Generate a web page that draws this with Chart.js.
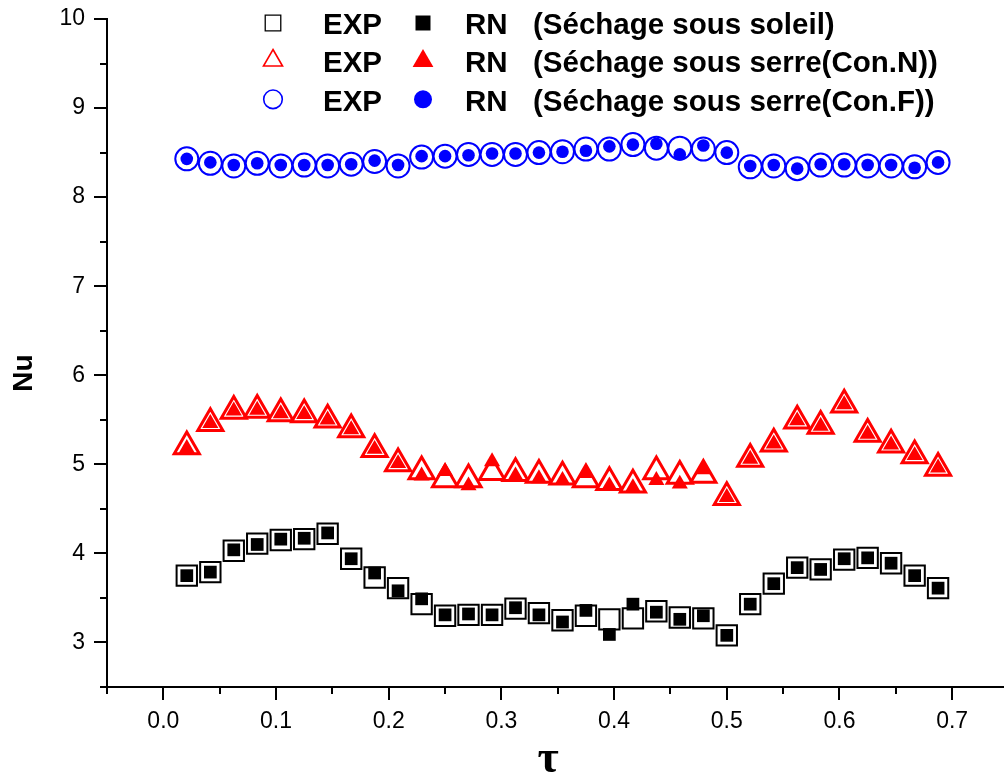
<!DOCTYPE html>
<html>
<head>
<meta charset="utf-8">
<script src="https://cdn.jsdelivr.net/npm/chart.js@4/dist/chart.umd.min.js"></script>
<style>
  html, body { margin: 0; padding: 0; background: #fff; overflow: hidden; }
  #wrap { width: 1004px; height: 776px; }
</style>
</head>
<body>
<div id="wrap"><canvas id="c" width="1004" height="776"></canvas></div>
<script>
// Dimensionless time (tau)
const tau = [0.0208, 0.0417, 0.0625, 0.0833, 0.1042, 0.125, 0.1458, 0.1667, 0.1875, 0.2083, 0.2292,
             0.25, 0.2708, 0.2917, 0.3125, 0.3333, 0.3542, 0.375, 0.3958, 0.4167, 0.4375, 0.4583,
             0.4792, 0.5, 0.5208, 0.5417, 0.5625, 0.5833, 0.6042, 0.625, 0.6458, 0.6667, 0.6875];

// Nusselt number: séchage sous soleil
const soleilExp = [3.75, 3.79, 4.03, 4.11, 4.15, 4.16, 4.22, 3.94, 3.73, 3.61, 3.43, 3.30, 3.31, 3.31, 3.38, 3.33,
                   3.25, 3.30, 3.26, 3.27, 3.35, 3.28, 3.27, 3.08, 3.43, 3.66, 3.84, 3.82, 3.93, 3.95, 3.89, 3.75, 3.61];
const soleilRn  = [3.75, 3.79, 4.04, 4.10, 4.16, 4.17, 4.23, 3.94, 3.78, 3.58, 3.49, 3.31, 3.32, 3.31, 3.39, 3.31,
                   3.23, 3.36, 3.09, 3.43, 3.34, 3.26, 3.30, 3.08, 3.43, 3.66, 3.84, 3.82, 3.94, 3.95, 3.89, 3.75, 3.61];

// Nusselt number: serre, convection naturelle
const serreNExp = [5.20, 5.46, 5.60, 5.61, 5.57, 5.56, 5.50, 5.39, 5.17, 5.01, 4.92, 4.83, 4.83, 4.91, 4.90, 4.88,
                   4.86, 4.83, 4.80, 4.77, 4.92, 4.87, 4.88, 4.63, 5.06, 5.23, 5.49, 5.43, 5.67, 5.34, 5.22, 5.10, 4.96];
const serreNRn  = [5.18, 5.46, 5.60, 5.61, 5.57, 5.56, 5.50, 5.39, 5.17, 5.01, 4.87, 4.92, 4.76, 5.03, 4.87, 4.84,
                   4.82, 4.90, 4.76, 4.74, 4.82, 4.78, 4.94, 4.63, 5.06, 5.23, 5.49, 5.43, 5.67, 5.34, 5.22, 5.10, 4.96];

// Nusselt number: serre, convection forcée
const serreFExp = [8.43, 8.38, 8.35, 8.38, 8.35, 8.36, 8.35, 8.37, 8.40, 8.35, 8.45, 8.46, 8.48, 8.48, 8.48, 8.50,
                   8.51, 8.54, 8.54, 8.59, 8.55, 8.55, 8.54, 8.50, 8.34, 8.35, 8.32, 8.36, 8.36, 8.35, 8.35, 8.34, 8.39];
const serreFRn  = [8.43, 8.39, 8.36, 8.38, 8.36, 8.36, 8.36, 8.37, 8.41, 8.36, 8.46, 8.46, 8.47, 8.49, 8.49, 8.50,
                   8.51, 8.52, 8.57, 8.59, 8.60, 8.48, 8.58, 8.50, 8.35, 8.36, 8.32, 8.37, 8.37, 8.36, 8.36, 8.33, 8.39];

// Axis ticks
const xTicks = [-0.05, 0.0, 0.05, 0.1, 0.15, 0.2, 0.25, 0.3, 0.35, 0.4, 0.45, 0.5, 0.55, 0.6, 0.65, 0.7];
const xLabels = ['', '0.0', '', '0.1', '', '0.2', '', '0.3', '', '0.4', '', '0.5', '', '0.6', '', '0.7'];
const yTicks = [2.5, 3, 3.5, 4, 4.5, 5, 5.5, 6, 6.5, 7, 7.5, 8, 8.5, 9, 9.5, 10];
const yLabels = ['', '3', '', '4', '', '5', '', '6', '', '7', '', '8', '', '9', '', '10'];

// Legend rows
const legendText = ['(Séchage sous soleil)', '(Séchage sous serre(Con.N))', '(Séchage sous serre(Con.F))'];

const pts = ys => tau.map((x, i) => ({ x: x, y: ys[i] }));

const FONT = '"Liberation Sans", Arial, sans-serif';

function hollow(data, style, color, radius, bw) {
  return {
    data: pts(data), pointStyle: style, pointRadius: radius, pointHoverRadius: radius,
    pointBorderColor: color, pointBackgroundColor: '#ffffff', pointBorderWidth: bw,
    showLine: false, clip: false, order: 2
  };
}
function filled(data, style, color, radius) {
  return {
    data: pts(data), pointStyle: style, pointRadius: radius, pointHoverRadius: radius,
    pointBorderColor: color, pointBackgroundColor: color, pointBorderWidth: 0,
    showLine: false, clip: false, order: 1
  };
}

// Axes, tick marks, axis titles and legend
const decorations = {
  id: 'decorations',
  afterDatasetsDraw(chart) {
    const ctx = chart.ctx;
    const xs = chart.scales.x, ys = chart.scales.y;
    const a = chart.chartArea;
    ctx.save();
    ctx.strokeStyle = '#000';
    ctx.lineWidth = 2;
    ctx.lineCap = 'butt';
    // axis lines
    ctx.beginPath();
    ctx.moveTo(a.left, a.top - 1);
    ctx.lineTo(a.left, a.bottom + 1);
    ctx.moveTo(a.left - 1, a.bottom);
    ctx.lineTo(chart.width, a.bottom);
    ctx.stroke();
    // tick marks (outward)
    ctx.beginPath();
    xTicks.forEach((v, i) => {
      const px = Math.round(xs.getPixelForValue(v));
      const len = xLabels[i] ? 13 : 7;
      ctx.moveTo(px, a.bottom);
      ctx.lineTo(px, a.bottom + len);
    });
    yTicks.forEach((v, i) => {
      const py = Math.round(ys.getPixelForValue(v));
      const len = yLabels[i] ? 13 : 7;
      ctx.moveTo(a.left, py);
      ctx.lineTo(a.left - len, py);
    });
    ctx.stroke();

    // axis titles
    ctx.fillStyle = '#000';
    ctx.font = 'bold 28px ' + FONT;
    ctx.textAlign = 'center';
    ctx.textBaseline = 'middle';
    ctx.save();
    ctx.translate(24, 373);
    ctx.rotate(-Math.PI / 2);
    ctx.fillText('Nu', 0, 0);
    ctx.restore();
    ctx.font = 'bold 46px "Liberation Serif", "DejaVu Serif", serif';
    ctx.textBaseline = 'alphabetic';
    ctx.fillText('τ', 548, 772);

    // legend
    const rows = [
      { style: 'rect', color: '#000', hr: 11, fr: 10.6, hy: 23, fy: 23 },
      { style: 'triangle', color: '#ff0000', hr: 11, fr: 12, hy: 60.5, fy: 61 },
      { style: 'circle', color: '#0000ff', hr: 9.3, fr: 9, hy: 99.3, fy: 99.3 }
    ];
    const baselines = [33.5, 72, 110.5];
    rows.forEach((r, i) => {
      ctx.fillStyle = '#ffffff';
      ctx.strokeStyle = r.color;
      ctx.lineWidth = r.style === 'rect' ? 1.3 : 1.6;
      Chart.helpers.drawPoint(ctx, { pointStyle: r.style, radius: r.hr, borderWidth: ctx.lineWidth, rotation: 0 }, 273, r.hy);
      ctx.fillStyle = r.color;
      ctx.lineWidth = 0;
      Chart.helpers.drawPoint(ctx, { pointStyle: r.style, radius: r.fr, borderWidth: 0, rotation: 0 }, 423, r.fy);
      ctx.fillStyle = '#000';
      ctx.font = 'bold 29.5px ' + FONT;
      ctx.textAlign = 'left';
      ctx.textBaseline = 'alphabetic';
      ctx.fillText('EXP', 323, baselines[i]);
      ctx.fillText('RN', 465, baselines[i]);
      ctx.fillText(legendText[i], 533, baselines[i]);
    });
    ctx.restore();
  }
};

new Chart(document.getElementById('c'), {
  type: 'scatter',
  data: {
    datasets: [
      hollow(soleilExp, 'rect', '#000000', 14.4, 2),
      filled(soleilRn, 'rect', '#000000', 9),
      hollow(serreNExp, 'triangle', '#ff0000', 14.5, 3),
      filled(serreNRn, 'triangle', '#ff0000', 9.3),
      hollow(serreFExp, 'circle', '#0000ff', 11.5, 2),
      filled(serreFRn, 'circle', '#0000ff', 6.3)
    ]
  },
  options: {
    responsive: false,
    animation: false,
    devicePixelRatio: 1,
    layout: { autoPadding: false, padding: { top: 19, right: 0, left: 0, bottom: 0 } },
    plugins: { legend: { display: false }, tooltip: { enabled: false } },
    events: [],
    scales: {
      x: {
        type: 'linear', min: -0.05, max: 0.746,
        grid: { display: false, drawTicks: false },
        border: { display: false },
        afterBuildTicks: s => { s.ticks = xTicks.map(v => ({ value: v })); },
        afterFit: s => { s.height = 89; s.paddingLeft = 0; s.paddingRight = 0; },
        ticks: {
          autoSkip: false, maxRotation: 0, padding: 21, color: '#000',
          font: { family: FONT, size: 23 },
          callback: (v, i) => xLabels[i]
        }
      },
      y: {
        type: 'linear', min: 2.5, max: 10,
        grid: { display: false, drawTicks: false },
        border: { display: false },
        afterBuildTicks: s => { s.ticks = yTicks.map(v => ({ value: v })); },
        afterFit: s => { s.width = 107; s.paddingTop = 0; s.paddingBottom = 0; },
        ticks: {
          autoSkip: false, padding: 22, color: '#000',
          font: { family: FONT, size: 23 },
          callback: (v, i) => yLabels[i]
        }
      }
    }
  },
  plugins: [decorations]
});
</script>
</body>
</html>
